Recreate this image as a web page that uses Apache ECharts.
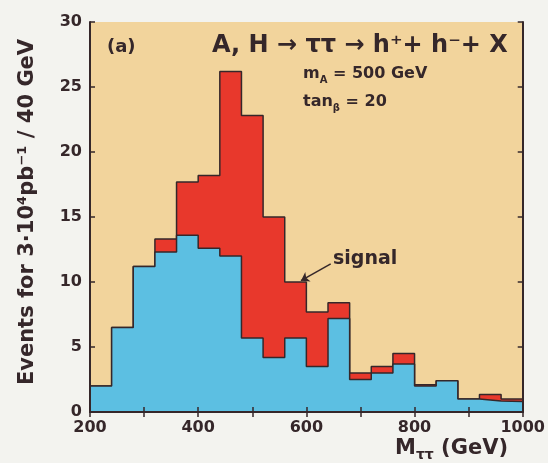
<!DOCTYPE html>
<html>
<head>
<meta charset="utf-8">
<script src="https://cdn.jsdelivr.net/npm/echarts@6/dist/echarts.min.js"></script>
<style>
  html, body { margin: 0; padding: 0; background: #f3f3ef; }
  #chart { width: 548px; height: 463px; }
</style>
</head>
<body>
<div id="chart"></div>
<script>
// lower edge of every 40 GeV bin
const binLow = [200, 240, 280, 320, 360, 400, 440, 480, 520, 560,
                600, 640, 680, 720, 760, 800, 840, 880, 920, 960];
const binEnd = 1000;
// background only (blue)
const background = [2.0, 6.5, 11.2, 12.3, 13.6, 12.6, 12.0, 5.7, 4.2, 5.7,
                    3.5, 7.2, 2.5, 3.0, 3.7, 2.0, 2.4, 1.0, 0.85, 0.8];
// signal + background (red top)
const total = [2.0, 6.5, 11.2, 13.3, 17.7, 18.2, 26.2, 22.8, 15.0, 10.0,
               7.7, 8.4, 3.0, 3.5, 4.5, 2.1, 2.4, 1.0, 1.35, 1.0];
const xTickLabels = [200, 400, 600, 800, 1000];
const yTickLabels = [0, 5, 10, 15, 20, 25, 30];

const ink = '#35272a';
const font = '"DejaVu Sans", sans-serif';

// histogram outline as a step line
function steps(vals) {
  const d = binLow.map((x, i) => [x, vals[i]]);
  d.push([binEnd, vals[vals.length - 1]]);
  return d;
}

const chart = echarts.init(document.getElementById('chart'));

const axisCommon = {
  axisLine: { show: true, lineStyle: { color: ink, width: 2 } },
  axisTick: { show: true, inside: true, length: 5, lineStyle: { color: ink, width: 1.5 } },
  splitLine: { show: false },
  z: 10
};

chart.setOption({
  animation: false,
  grid: {
    left: 90, right: 23, top: 22, bottom: 51,
    show: true, backgroundColor: '#f2d49c', borderWidth: 0
  },
  xAxis: [
    Object.assign({
      type: 'value', min: 200, max: 1000, interval: 100,
      axisLabel: {
        margin: 8, color: ink, fontFamily: font, fontWeight: 'bold', fontSize: 16,
        formatter: v => xTickLabels.includes(v) ? String(v) : ''
      }
    }, axisCommon),
    Object.assign({
      type: 'value', min: 200, max: 1000, interval: 100, position: 'top',
      axisLabel: { show: false }
    }, axisCommon)
  ],
  yAxis: [
    Object.assign({
      type: 'value', min: 0, max: 30, interval: 5,
      axisLabel: {
        margin: 8, color: ink, fontFamily: font, fontWeight: 'bold', fontSize: 16,
        formatter: v => yTickLabels.includes(v) ? String(v) : ''
      }
    }, axisCommon),
    Object.assign({
      type: 'value', min: 0, max: 30, interval: 5, position: 'right',
      axisLabel: { show: false }
    }, axisCommon)
  ],
  series: [
    {
      name: 'signal',
      type: 'line',
      step: 'end',
      data: steps(total),
      showSymbol: false,
      lineStyle: { color: ink, width: 1.5 },
      areaStyle: { color: '#e8382c', opacity: 1 },
      z: 2,
      markLine: {
        silent: true,
        symbol: ['none', 'arrow'],
        symbolSize: 8,
        label: { show: false },
        lineStyle: { color: ink, width: 1.5, type: 'solid' },
        data: [[{ coord: [645, 11.4] }, { coord: [590, 10.1] }]]
      }
    },
    {
      name: 'background',
      type: 'line',
      step: 'end',
      data: steps(background),
      showSymbol: false,
      lineStyle: { color: ink, width: 1.5 },
      areaStyle: { color: '#5cbfe2', opacity: 1 },
      z: 3
    }
  ],
  graphic: [
    {
      type: 'text', x: 107, y: 47, z: 20,
      style: { text: '(a)', font: 'bold 18px ' + font, fill: ink, verticalAlign: 'middle' }
    },
    {
      type: 'text', x: 212, y: 46, z: 20,
      style: { text: 'A, H → ττ → h⁺+ h⁻+ X', font: 'bold 24px ' + font, fill: ink, verticalAlign: 'middle' }
    },
    {
      type: 'text', x: 303, y: 74, z: 20,
      style: {
        text: '{a|m}{s|A}{a| = 500 GeV}', fill: ink, verticalAlign: 'middle',
        rich: {
          a: { font: 'bold 16px ' + font, fill: ink, lineHeight: 22, verticalAlign: 'middle' },
          s: { font: 'bold 10px ' + font, fill: ink, lineHeight: 10, verticalAlign: 'bottom' }
        }
      }
    },
    {
      type: 'text', x: 303, y: 102, z: 20,
      style: {
        text: '{a|tan}{s|β}{a| = 20}', fill: ink, verticalAlign: 'middle',
        rich: {
          a: { font: 'bold 16px ' + font, fill: ink, lineHeight: 22, verticalAlign: 'middle' },
          s: { font: 'bold 10px ' + font, fill: ink, lineHeight: 10, verticalAlign: 'bottom' }
        }
      }
    },
    {
      type: 'text', x: 333, y: 259, z: 20,
      style: { text: 'signal', font: 'bold 19px ' + font, fill: ink, verticalAlign: 'middle' }
    },
    {
      type: 'text', x: 395, y: 449, z: 20,
      style: {
        text: '{a|M}{s|ττ}{a| (GeV)}', fill: ink, verticalAlign: 'middle',
        rich: {
          a: { font: 'bold 21px ' + font, fill: ink, lineHeight: 26, verticalAlign: 'middle' },
          s: { font: 'bold 14px ' + font, fill: ink, lineHeight: 14, verticalAlign: 'bottom' }
        }
      }
    },
    {
      type: 'text', x: 28, y: 212, rotation: Math.PI / 2, z: 20,
      style: {
        text: 'Events for 3·10⁴pb⁻¹ / 40 GeV', font: 'bold 21px ' + font, fill: ink,
        align: 'center', verticalAlign: 'middle'
      }
    }
  ]
});
</script>
</body>
</html>
